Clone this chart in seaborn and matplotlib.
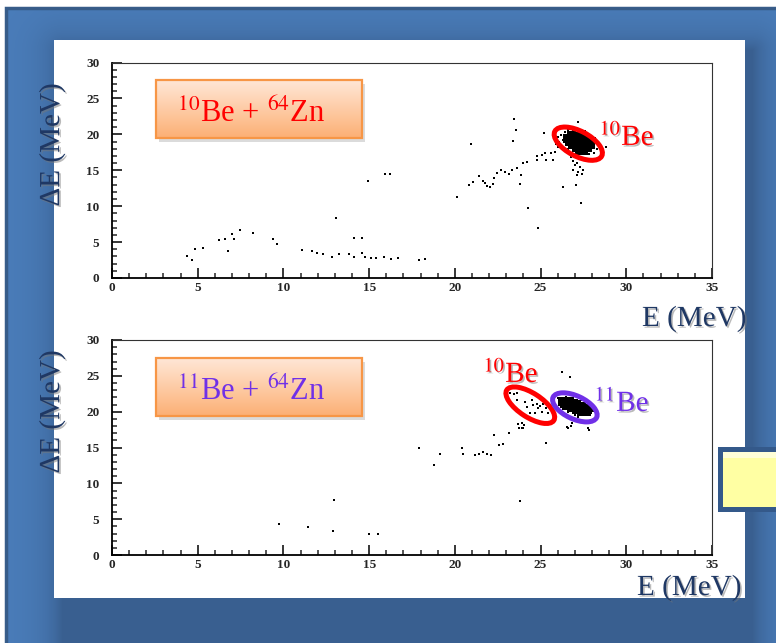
import matplotlib
matplotlib.use('Agg')
import matplotlib.pyplot as plt
import matplotlib.patches as mpatches
import matplotlib.transforms as mtransforms
import matplotlib.patheffects as pe
from matplotlib.ticker import MultipleLocator
import numpy as np
import seaborn as sns

# ---- data ----
# 10Be + 64Zn, scattered events
top_e = [4.36, 4.69, 4.84, 5.33, 6.24, 6.59, 6.79, 7.00, 7.14, 7.47,
         8.23, 9.39, 9.61, 11.07, 11.69, 11.98, 12.29, 12.82, 13.24, 13.85,
         14.12, 14.12, 14.59, 14.59, 14.76, 15.09, 15.40, 15.87, 16.26, 16.67,
         17.93, 18.26, 14.96, 15.93, 16.22, 13.07,
         20.15, 20.94, 23.47, 23.55, 23.42, 24.25, 24.87, 26.33, 27.05, 27.36, 27.20,
         20.85, 21.08, 21.43, 21.62, 21.76, 21.90, 22.05, 22.21, 22.30, 22.48,
         22.67, 22.93, 23.18, 23.31, 23.60, 23.84, 23.80, 23.96, 24.23, 24.77,
         24.81, 25.07, 25.26, 25.32, 25.60, 25.85, 25.75, 26.04, 25.20,
         26.88, 27.01, 27.15, 27.30, 26.90, 27.20, 27.46, 27.11, 27.40, 26.76, 27.50]
top_de = [3.06, 2.50, 4.04, 4.13, 5.29, 5.47, 3.76, 6.13, 5.39, 6.64,
          6.20, 5.43, 4.69, 3.90, 3.80, 3.44, 3.40, 2.97, 3.34, 3.39,
          2.97, 5.52, 5.52, 3.50, 2.97, 2.83, 2.80, 2.88, 2.65, 2.83,
          2.46, 2.60, 13.5, 14.44, 14.44, 8.40,
          11.3, 18.6, 22.2, 20.6, 19.1, 9.7, 6.9, 12.6, 12.9, 10.5, 21.7,
          12.95, 13.4, 14.25, 13.55, 13.2, 12.8, 12.6, 13.1, 13.9, 14.6,
          15.0, 14.7, 14.5, 15.0, 15.3, 14.4, 13.1, 16.0, 16.2, 17.0,
          16.4, 17.1, 17.45, 16.4, 17.4, 17.6, 16.4, 18.3, 20.15,
          16.3, 15.7, 16.0, 15.5, 15.0, 14.8, 15.1, 14.35, 14.5, 16.9, 16.7]
# halo around the 10Be blob
top_halo_e = [26.0, 26.2, 26.3, 26.1, 26.4, 26.6, 26.9, 27.6, 28.2, 28.4,
              28.3, 28.6, 28.1, 27.8, 26.6, 26.8, 25.9, 28.8, 26.2, 27.0]
top_halo_de = [19.6, 19.9, 19.2, 18.9, 20.3, 20.6, 20.5, 20.4, 19.5, 18.6,
               18.0, 17.8, 17.4, 17.2, 17.9, 17.4, 18.6, 18.3, 18.4, 17.0]
# dense 10Be blob
top_core_e = [26.7, 26.9, 27.1, 27.3, 27.5,
              26.5, 26.7, 26.9, 27.1, 27.3, 27.5, 27.7,
              26.5, 26.7, 26.9, 27.1, 27.3, 27.5, 27.7, 27.9,
              26.6, 26.8, 27.0, 27.2, 27.4, 27.6, 27.8, 28.0,
              26.8, 27.0, 27.2, 27.4, 27.6, 27.8, 28.0,
              27.0, 27.2, 27.4, 27.6, 27.8,
              27.2, 27.4, 27.6]
top_core_de = [20.0, 20.1, 19.9, 20.0, 19.9,
               19.6, 19.6, 19.7, 19.6, 19.5, 19.6, 19.5,
               19.2, 19.2, 19.1, 19.2, 19.2, 19.1, 19.2, 19.1,
               18.8, 18.8, 18.7, 18.8, 18.8, 18.7, 18.8, 18.7,
               18.4, 18.4, 18.3, 18.4, 18.4, 18.3, 18.4,
               18.0, 18.0, 17.9, 18.0, 18.0,
               17.6, 17.6, 17.5]

# 11Be + 64Zn, scattered events
bot_e = [9.76, 11.42, 12.97, 12.90, 15.01, 15.54,
         17.93, 18.80, 19.14, 20.44, 20.50, 21.18, 21.40, 21.63, 21.90, 22.10,
         22.29, 22.60, 22.78, 23.18, 23.80, 25.30, 23.71, 23.90, 24.04, 26.27, 26.72,
         23.22, 23.45, 23.64, 23.61, 24.10, 24.23, 24.48, 24.58, 24.78, 24.87,
         24.97, 25.07, 25.16, 25.32, 24.68, 24.39, 25.40, 25.46, 25.65, 23.80,
         23.90, 23.76, 23.99,
         26.53, 26.80, 27.80, 26.60, 26.82, 27.79]
bot_de = [4.37, 3.86, 7.63, 3.39, 2.88, 2.88,
          15.0, 12.55, 14.04, 14.97, 14.09, 13.95, 14.05, 14.4, 14.1, 13.95,
          16.7, 15.3, 15.5, 16.97, 7.53, 15.66, 18.27, 17.75, 18.13, 25.57, 24.78,
          22.55, 22.45, 22.55, 21.6, 21.4, 20.7, 21.6, 20.9, 21.1, 20.45,
          20.8, 20.0, 21.1, 20.45, 19.76, 19.76, 21.2, 19.76, 20.2, 20.0,
          18.37, 17.67, 17.67,
          17.9, 18.0, 17.5, 17.7, 18.37, 17.67]
bot_halo_e = [26.0, 26.1, 26.3, 26.6, 27.0, 27.9, 28.1, 28.2, 27.8, 27.4,
              26.9, 26.5, 27.2, 28.3]
bot_halo_de = [21.9, 20.9, 20.4, 20.0, 19.6, 19.6, 20.1, 20.6, 21.2, 21.6,
               21.9, 22.1, 19.3, 19.8]
# dense 11Be blob
bot_core_e = [26.2, 26.4, 26.6, 26.8,
              26.2, 26.4, 26.6, 26.8, 27.0, 27.2,
              26.3, 26.5, 26.7, 26.9, 27.1, 27.3, 27.5,
              26.5, 26.7, 26.9, 27.1, 27.3, 27.5, 27.7,
              26.7, 26.9, 27.1, 27.3, 27.5, 27.7, 27.9,
              27.0, 27.2, 27.4, 27.6, 27.8,
              27.3, 27.5, 27.7]
bot_core_de = [21.6, 21.6, 21.5, 21.6,
               21.3, 21.3, 21.2, 21.3, 21.3, 21.2,
               21.0, 21.0, 20.9, 21.0, 21.0, 20.9, 21.0,
               20.7, 20.7, 20.6, 20.7, 20.7, 20.6, 20.7,
               20.4, 20.4, 20.3, 20.4, 20.4, 20.3, 20.4,
               20.1, 20.1, 20.0, 20.1, 20.1,
               19.8, 19.8, 19.8]

x_ticks = [0, 5, 10, 15, 20, 25, 30, 35]
y_ticks = [0, 5, 10, 15, 20, 25, 30]

sns.set_style('white')
plt.rcParams['font.family'] = ['Liberation Serif', 'DejaVu Serif']
plt.rcParams['mathtext.fontset'] = 'stix'

W, H = 776, 643
fig = plt.figure(figsize=(W / 100, H / 100), dpi=100)

# slide background (pixel coords, y down)
bg = fig.add_axes([0, 0, 1, 1], zorder=0)
bg.set_xlim(0, W)
bg.set_ylim(H, 0)
bg.axis('off')
bg.add_patch(mpatches.Rectangle((6, 8), W, H, fc='#4A7DBA', ec='#385D8A', lw=2.5))
yy, xx = np.mgrid[0:H, 0:W]
dx = np.maximum(np.maximum(62 - xx, xx - 752), 0)
dy = np.maximum(np.maximum(50 - yy, yy - 660), 0)
shade = np.zeros((H, W, 4))
shade[..., :3] = (0.10, 0.15, 0.25)
shade[..., 3] = 0.34 * np.exp(-np.hypot(dx, dy) / 18.0)
shade[:8, :, 3] = 0
shade[:, :6, 3] = 0
bg.imshow(shade, extent=(0, W, H, 0), zorder=2, interpolation='bilinear')
bg.add_patch(mpatches.Rectangle((54, 40), 691, 558, fc='white', ec='none', zorder=3))
bg.set_xlim(0, W)
bg.set_ylim(H, 0)

# the two dE-E panels
ax_top = fig.add_axes([112 / W, 1 - 278 / H, 600 / W, 215.5 / H], zorder=1)
ax_bot = fig.add_axes([112 / W, 1 - 555 / H, 600 / W, 215 / H], zorder=1)


def scatter(ax, xs, ys, size):
    sns.scatterplot(x=xs, y=ys, ax=ax, color='black', s=size, marker='s',
                    linewidth=0, legend=False)


def ring(ax, cx, cy, w, h, ang, color):
    tr = fig.dpi_scale_trans + mtransforms.ScaledTranslation(cx, cy, ax.transData)
    ax.add_patch(mpatches.Ellipse((0, 0), w / 100, h / 100, angle=ang, transform=tr,
                                  fill=False, ec=color, lw=3.6, zorder=5))


for ax in (ax_top, ax_bot):
    ax.set_facecolor('white')
    ax.set_xlim(0, 35)
    ax.set_ylim(0, 30)
    ax.set_xticks(x_ticks)
    ax.set_yticks(y_ticks)
    ax.xaxis.set_minor_locator(MultipleLocator(1))
    ax.yaxis.set_minor_locator(MultipleLocator(1))
    ax.tick_params(which='major', direction='in', length=7, width=1.3, pad=3,
                   bottom=True, left=True, labelsize=9.5)
    ax.tick_params(which='minor', direction='in', length=3.8, width=1.1,
                   bottom=True, left=True)
    ax.tick_params(axis='y', which='major', pad=9)
    for lab in ax.get_xticklabels() + ax.get_yticklabels():
        lab.set_fontweight('bold')
    for side in ['top', 'right']:
        ax.spines[side].set_linewidth(0.8)
        ax.spines[side].set_color('#333333')
    for side in ['left', 'bottom']:
        ax.spines[side].set_linewidth(1.3)
        ax.spines[side].set_color('black')
    ax.set_xlabel('')
    ax.set_ylabel('')

scatter(ax_top, top_e, top_de, 3)
scatter(ax_top, top_halo_e, top_halo_de, 3)
scatter(ax_top, top_core_e, top_core_de, 15)
scatter(ax_bot, bot_e, bot_de, 3)
scatter(ax_bot, bot_halo_e, bot_halo_de, 3)
scatter(ax_bot, bot_core_e, bot_core_de, 15)

ring(ax_top, 27.2, 18.7, 53, 25, -28, '#FF0000')
ring(ax_bot, 24.4, 20.9, 56, 24, -33, '#FF0000')
ring(ax_bot, 27.0, 20.6, 48, 23, -25, '#7030E8')
for ax in (ax_top, ax_bot):
    ax.set_xlim(0, 35)
    ax.set_ylim(0, 30)

# overlay for slide decorations and labels (pixel coords, y down)
ov = fig.add_axes([0, 0, 1, 1], zorder=2)
ov.set_xlim(0, W)
ov.set_ylim(H, 0)
ov.axis('off')
ov.patch.set_alpha(0)

grad = np.linspace(0, 1, 64)[:, None]
peach = np.array([1.0, 0.905, 0.84])
orange = np.array([0.99, 0.69, 0.46])
box_img = (peach * (1 - grad)[..., None] + orange * grad[..., None])
for y0, txt, col in [(80, r'$^{10}$Be + $^{64}$Zn', '#FF0000'),
                     (358, r'$^{11}$Be + $^{64}$Zn', '#7030E8')]:
    ov.add_patch(mpatches.Rectangle((159, y0 + 4), 206, 58, fc='#999999', alpha=0.35, ec='none'))
    ov.imshow(box_img, extent=(156, 362, y0 + 58, y0), aspect='auto', zorder=3)
    ov.add_patch(mpatches.Rectangle((156, y0), 206, 58, fc='none', ec='#F79646', lw=1.6, zorder=4))
    ov.text(177, y0 + 42, txt, color=col, fontsize=22, va='baseline', ha='left', zorder=5)

shadow = [pe.withSimplePatchShadow(offset=(1.2, -1.2), shadow_rgbFace='#777777', alpha=0.5)]
ov.text(599, 145, r'$^{10}$Be', color='#FF0000', fontsize=21, va='baseline', path_effects=shadow)
ov.text(483, 382, r'$^{10}$Be', color='#FF0000', fontsize=21, va='baseline', path_effects=shadow)
ov.text(594, 411, r'$^{11}$Be', color='#7030E8', fontsize=21, va='baseline', path_effects=shadow)

navy = '#1F3864'
for yc in (145, 412):
    ov.text(52, yc, 'ΔE (MeV)', rotation=90, color=navy, fontsize=21, ha='center',
            va='center', path_effects=shadow)
ov.text(642, 326, 'E (MeV)', color=navy, fontsize=21, ha='left', va='baseline', path_effects=shadow)
ov.text(637, 595, 'E (MeV)', color=navy, fontsize=21, ha='left', va='baseline', path_effects=shadow)

# yellow button on the right edge
ov.add_patch(mpatches.Rectangle((718, 447), 70, 65, fc='#34598A', ec='none'))
ov.add_patch(mpatches.Rectangle((723, 452), 60, 55, fc='#FFFFA3', ec='none'))
ov.add_patch(mpatches.Rectangle((723, 452), 60, 6, fc='#FFFFD8', ec='none'))
ov.set_xlim(0, W)
ov.set_ylim(H, 0)

fig.savefig('out.png', dpi=100)
